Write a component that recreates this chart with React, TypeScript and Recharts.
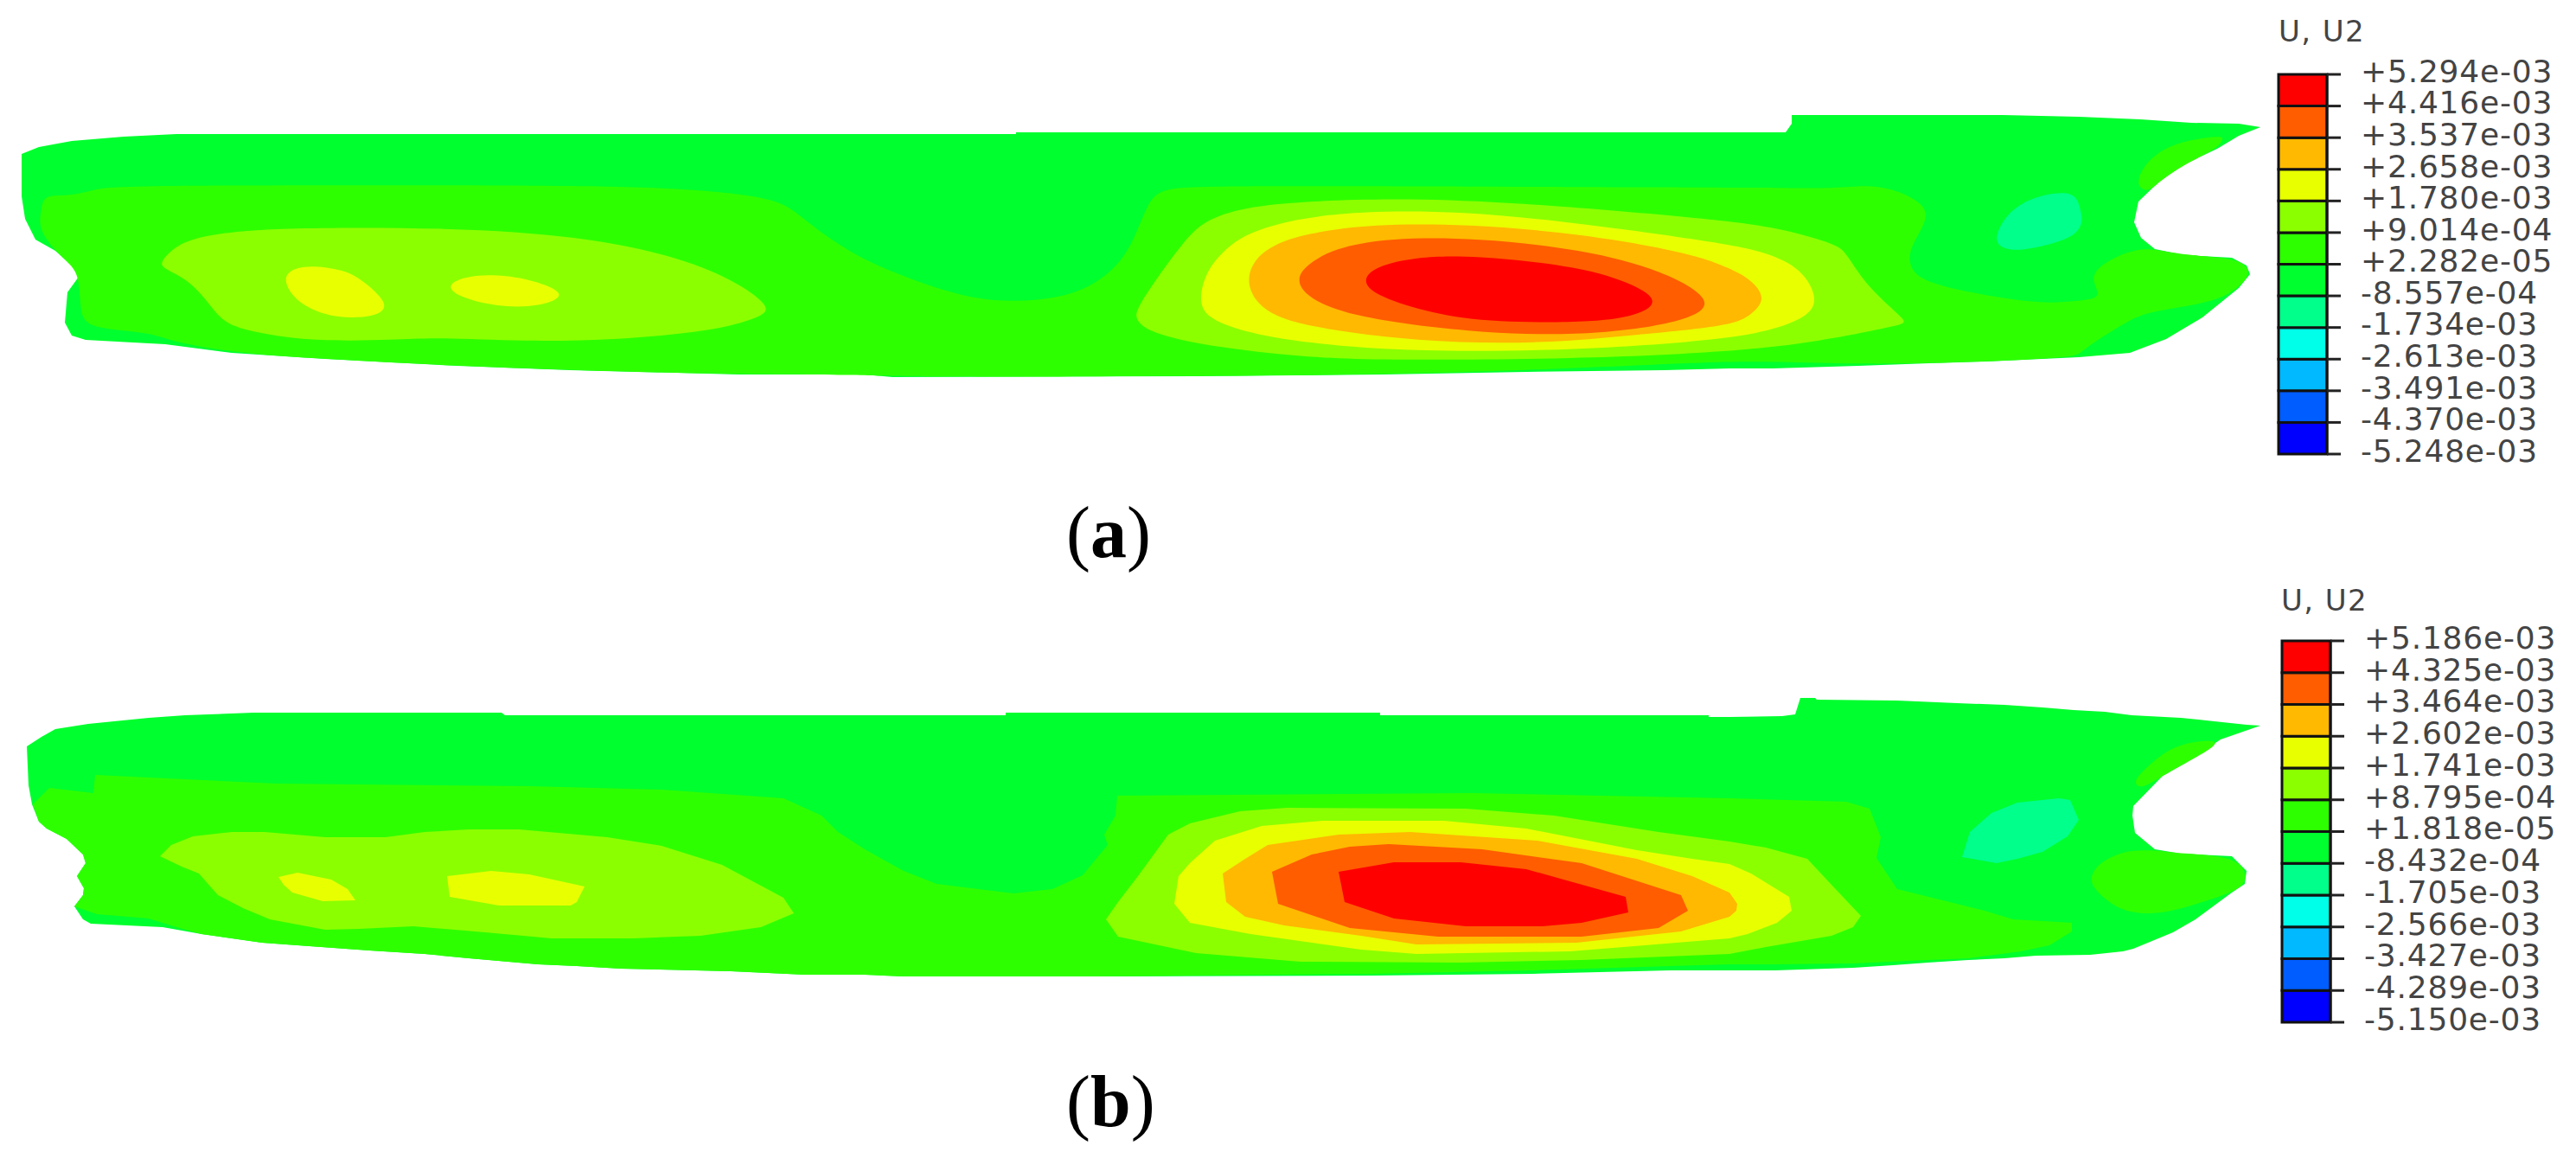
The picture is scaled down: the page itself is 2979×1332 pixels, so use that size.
import { BarChart, Bar, XAxis, YAxis, ScatterChart, Scatter } from "recharts";

type Pt = [number, number];

const C_RED = "#ff0000";
const C_ORED = "#ff5d00";
const C_ORANGE = "#ffb900";
const C_YELLOW = "#e8ff00";
const C_LIME = "#8bff00";
const C_GREEN1 = "#2eff00";
const C_GREEN2 = "#00ff2e";
const C_SPRING = "#00ff8b";

const bandColors = [C_RED, C_ORED, C_ORANGE, C_YELLOW, C_LIME, C_GREEN1, C_GREEN2, C_SPRING, "#00ffe8", "#00b9ff", "#005dff", "#0000ff"];

const levelsA = ["+5.294e-03", "+4.416e-03", "+3.537e-03", "+2.658e-03", "+1.780e-03", "+9.014e-04", "+2.282e-05", "-8.557e-04", "-1.734e-03", "-2.613e-03", "-3.491e-03", "-4.370e-03", "-5.248e-03"];
const levelsB = ["+5.186e-03", "+4.325e-03", "+3.464e-03", "+2.602e-03", "+1.741e-03", "+8.795e-04", "+1.818e-05", "-8.432e-04", "-1.705e-03", "-2.566e-03", "-3.427e-03", "-4.289e-03", "-5.150e-03"];

// contour outlines of panel (a), outermost first
const hullA: Pt[] = [[25,178],[45,170],[83,163],[143,158],[204,155],[1175,155],[1175,153],[2065,153],[2072,143],[2072,133],[2316,133],[2404,135],[2475,138],[2534,142],[2589,143],[2614,147],[2589,157],[2564,172],[2526,190],[2497,210],[2473,233],[2468,257],[2476,275],[2492,288],[2526,295],[2581,298],[2598,307],[2602,317],[2589,333],[2547,367],[2505,392],[2463,408],[2404,413],[2297,418],[2231,420],[2149,423],[2050,426],[2000,426],[1925,428],[1765,430],[1599,433],[1383,435],[1032,436],[1000,433],[855,433],[660,428],[529,423],[376,415],[268,408],[191,398],[99,393],[83,388],[75,373],[78,338],[91,320],[83,307],[64,290],[41,277],[29,253],[25,227]];
const greenA: Pt[] = [[44,265],[48,240],[51,225],[83,227],[108,219],[143,214],[638,214],[784,217],[893,228],[918,243],[950,270],[1000,302],[1064,327],[1128,347],[1185,349],[1236,342],[1268,327],[1293,307],[1312,277],[1328,232],[1344,218],[1395,214],[2000,217],[2046,217],[2126,218],[2156,214],[2189,218],[2219,232],[2231,248],[2219,270],[2208,290],[2208,307],[2219,322],[2252,333],[2316,345],[2366,351],[2404,348],[2425,345],[2427,338],[2419,323],[2425,310],[2446,297],[2471,288],[2492,288],[2526,295],[2581,298],[2598,307],[2602,317],[2589,333],[2560,350],[2484,360],[2459,372],[2404,407],[2404,413],[2297,418],[2231,420],[2149,421],[2050,418],[2000,418],[1925,421],[1765,428],[1599,433],[1383,435],[1032,436],[1000,433],[855,433],[660,428],[529,423],[376,415],[268,408],[191,393],[178,385],[108,380],[95,368],[93,353],[91,320],[83,307],[64,290]];
const bowLobeA: Pt[] = [[2471,210],[2480,190],[2501,172],[2530,162],[2568,157],[2572,160],[2564,172],[2526,190],[2497,210],[2486,221],[2476,219]];
const springA: Pt[] = [[2305,277],[2320,247],[2349,228],[2387,221],[2402,227],[2406,243],[2409,257],[2400,273],[2370,283],[2337,290],[2316,288]];
const limeLeftA: Pt[] = [[185,303],[204,283],[236,272],[312,263],[523,263],[670,273],[778,295],[848,323],[893,355],[880,367],[823,383],[714,393],[606,395],[504,390],[459,393],[357,395],[281,382],[255,370],[239,347],[217,323],[188,310]];
const yellow1A: Pt[] = [[327,322],[338,310],[364,307],[395,312],[415,320],[453,353],[434,367],[389,368],[357,357],[338,343]];
const yellow2A: Pt[] = [[516,330],[536,320],[568,317],[612,322],[660,340],[625,355],[574,355],[529,343]];
const limeA: Pt[] = [[1312,367],[1316,357],[1325,340],[1370,277],[1395,253],[1446,238],[1523,232],[1638,229],[1797,237],[2000,255],[2063,265],[2126,283],[2135,293],[2160,333],[2206,372],[2202,375],[2105,395],[2000,407],[1829,415],[1574,417],[1478,410],[1383,398],[1325,383]];
const yellowA: Pt[] = [[1386,347],[1395,313],[1415,290],[1440,270],[1497,253],[1574,244],[1689,244],[1829,258],[2000,282],[2042,292],[2084,310],[2104,348],[2088,367],[2055,380],[2000,392],[1829,405],[1638,407],[1510,397],[1434,383],[1395,367]];
const orangeA: Pt[] = [[1440,328],[1450,300],[1472,283],[1510,270],[1587,259],[1695,259],[1829,270],[1957,293],[2000,310],[2025,323],[2043,345],[2025,365],[2000,377],[1893,387],[1778,398],[1638,395],[1510,378],[1459,360]];
const redOrangeA: Pt[] = [[1499,323],[1510,307],[1542,287],[1606,275],[1708,275],[1829,288],[1925,313],[1984,348],[1957,370],[1855,387],[1721,387],[1561,367],[1510,343]];
const redA: Pt[] = [[1574,325],[1590,308],[1638,297],[1702,295],[1829,308],[1893,330],[1918,348],[1899,363],[1848,373],[1727,373],[1657,363],[1593,343]];

// contour outlines of panel (b)
const hullB: Pt[] = [[31,863],[48,852],[64,843],[102,837],[172,830],[214,827],[293,824],[580,824],[584,827],[1163,827],[1163,824],[1596,824],[1596,827],[1976,827],[1976,829],[2000,829],[2061,828],[2076,826],[2082,807],[2099,807],[2101,809],[2194,810],[2263,813],[2318,815],[2362,818],[2398,821],[2434,823],[2465,827],[2522,830],[2551,833],[2598,838],[2614,839],[2568,855],[2526,883],[2501,897],[2467,932],[2466,943],[2469,963],[2492,982],[2522,987],[2581,990],[2598,1007],[2596,1022],[2581,1032],[2539,1063],[2513,1078],[2467,1097],[2455,1100],[2417,1104],[2354,1105],[2318,1108],[2276,1110],[2229,1113],[2189,1116],[2143,1119],[2053,1122],[2000,1122],[1931,1122],[1772,1126],[1587,1128],[1268,1129],[1045,1129],[1000,1127],[931,1127],[845,1123],[718,1120],[667,1117],[622,1115],[542,1108],[491,1103],[427,1099],[344,1093],[303,1090],[233,1080],[188,1072],[105,1068],[96,1063],[86,1048],[96,1035],[97,1027],[89,1013],[99,998],[96,988],[77,970],[54,958],[45,950],[37,930],[33,908]];
const greenB: Pt[] = [[38,930],[57,911],[108,917],[110,896],[319,906],[612,909],[765,913],[906,923],[950,943],[969,962],[1000,982],[1045,1007],[1083,1022],[1172,1033],[1217,1028],[1252,1012],[1281,977],[1277,965],[1290,943],[1292,920],[1702,917],[2000,923],[2135,927],[2162,935],[2175,968],[2170,992],[2194,1028],[2295,1053],[2328,1063],[2396,1067],[2396,1077],[2370,1093],[2337,1100],[2276,1108],[2229,1110],[2143,1114],[2053,1115],[2000,1115],[1931,1117],[1772,1122],[1587,1126],[1268,1129],[1045,1129],[1000,1127],[931,1127],[845,1123],[718,1120],[667,1117],[622,1115],[542,1108],[491,1103],[427,1099],[344,1093],[303,1090],[233,1080],[204,1072],[172,1062],[112,1057],[86,1048],[96,1035],[97,1027],[89,1013],[99,998],[96,988],[77,970],[54,958],[45,950]];
const sternLobeB: Pt[] = [[2417,1015],[2425,1000],[2446,988],[2467,983],[2492,983],[2522,987],[2581,990],[2598,1007],[2596,1022],[2581,1032],[2547,1043],[2497,1058],[2459,1055],[2438,1043],[2421,1027]];
const bowLobeB: Pt[] = [[2467,905],[2476,893],[2505,867],[2535,857],[2577,855],[2526,883],[2501,897],[2476,913]];
const springB: Pt[] = [[2269,991],[2278,962],[2303,940],[2333,928],[2381,923],[2394,925],[2404,948],[2391,967],[2362,985],[2333,993],[2309,998]];
const limeLeftB: Pt[] = [[185,990],[198,977],[223,967],[268,962],[306,962],[376,968],[446,968],[491,962],[542,959],[600,959],[702,968],[765,978],[835,1000],[906,1038],[918,1056],[880,1072],[810,1082],[733,1085],[638,1085],[561,1078],[478,1071],[415,1074],[376,1075],[312,1063],[281,1050],[252,1035],[230,1010],[210,1002]];
const yellow1B: Pt[] = [[322,1014],[344,1009],[383,1017],[402,1028],[411,1041],[373,1042],[338,1032],[328,1023]];
const yellow2B: Pt[] = [[517,1013],[568,1007],[612,1011],[676,1025],[667,1043],[660,1047],[577,1047],[520,1037]];
const limeB: Pt[] = [[1279,1063],[1293,1043],[1316,1013],[1351,965],[1376,952],[1434,938],[1488,934],[1695,935],[1797,943],[1918,962],[2000,973],[2042,980],[2090,993],[2118,1023],[2152,1059],[2143,1072],[2118,1082],[2042,1095],[2000,1103],[1829,1110],[1689,1113],[1504,1112],[1383,1102],[1293,1083]];
const yellowB: Pt[] = [[1358,1045],[1363,1013],[1376,998],[1405,972],[1459,955],[1529,949],[1670,949],[1765,958],[1893,983],[1957,993],[2000,999],[2025,1010],[2069,1037],[2072,1053],[2055,1067],[2021,1080],[2000,1085],[1816,1100],[1638,1103],[1574,1098],[1446,1080],[1376,1067]];
const orangeB: Pt[] = [[1418,1043],[1414,1010],[1440,993],[1466,977],[1548,965],[1631,962],[1778,972],[1893,993],[1957,1013],[2000,1032],[2009,1045],[2008,1053],[2000,1060],[1944,1077],[1823,1090],[1638,1092],[1574,1082],[1485,1070],[1440,1060]];
const redOrangeB: Pt[] = [[1471,1008],[1517,988],[1561,979],[1606,976],[1714,982],[1829,998],[1944,1035],[1952,1053],[1918,1073],[1829,1083],[1663,1083],[1561,1073],[1478,1045]];
const redB: Pt[] = [[1548,1008],[1612,997],[1689,997],[1765,1005],[1880,1037],[1883,1055],[1829,1067],[1784,1071],[1695,1071],[1612,1062],[1555,1043]];

// panel (a) has smooth contours, panel (b) is faceted
const contours: [Pt[], string, "linearClosed" | "basisClosed"][] = [
  [hullA, C_GREEN2, "linearClosed"], [greenA, C_GREEN1, "basisClosed"], [bowLobeA, C_GREEN1, "basisClosed"], [springA, C_SPRING, "basisClosed"],
  [limeLeftA, C_LIME, "basisClosed"], [yellow1A, C_YELLOW, "basisClosed"], [yellow2A, C_YELLOW, "basisClosed"],
  [limeA, C_LIME, "basisClosed"], [yellowA, C_YELLOW, "basisClosed"], [orangeA, C_ORANGE, "basisClosed"], [redOrangeA, C_ORED, "basisClosed"], [redA, C_RED, "basisClosed"],
  [hullB, C_GREEN2, "linearClosed"], [greenB, C_GREEN1, "linearClosed"], [sternLobeB, C_GREEN1, "basisClosed"], [bowLobeB, C_GREEN1, "basisClosed"], [springB, C_SPRING, "linearClosed"],
  [limeLeftB, C_LIME, "linearClosed"], [yellow1B, C_YELLOW, "linearClosed"], [yellow2B, C_YELLOW, "linearClosed"],
  [limeB, C_LIME, "linearClosed"], [yellowB, C_YELLOW, "linearClosed"], [orangeB, C_ORANGE, "linearClosed"], [redOrangeB, C_ORED, "linearClosed"], [redB, C_RED, "linearClosed"],
];

const legendRow = [Object.fromEntries(bandColors.map((_, i) => [`b${i}`, 1]))];

function ColorLegend({ left, top, plotHeight, levels }: { left: number; top: number; plotHeight: number; levels: string[] }) {
  return (
    <div style={{ position: "absolute", left, top }}>
      <BarChart width={344} height={plotHeight + 60} data={legendRow} barCategoryGap={0} margin={{ top: 30, bottom: 30, left: 2, right: 0 }}>
        <XAxis hide type="category" />
        <YAxis
          orientation="right"
          type="number"
          width={286}
          domain={[0, 12]}
          ticks={levels.map((_, i) => i)}
          interval={0}
          tickFormatter={(v: number) => levels[12 - v]}
          tickSize={16}
          tickMargin={23}
          axisLine={{ stroke: "#111", strokeWidth: 3 }}
          tickLine={{ stroke: "#222", strokeWidth: 3 }}
          tick={{ fill: "#444", fontSize: 36, fontFamily: "DejaVu Sans", letterSpacing: 0.8, dy: -4 }}
        />
        {[...bandColors].reverse().map((c, i) => (
          <Bar key={i} dataKey={`b${i}`} stackId="u2" fill={c} stroke="#111" strokeWidth={3} isAnimationActive={false} />
        ))}
      </BarChart>
    </div>
  );
}

const titleStyle = { position: "absolute", fontFamily: "DejaVu Sans", fontSize: 34, letterSpacing: 1.4, color: "#444", lineHeight: "36px" } as const;
const captionStyle = { position: "absolute", fontFamily: "Liberation Serif", fontSize: 84, color: "#000", lineHeight: "96px" } as const;

export default function App() {
  return (
    <div style={{ position: "absolute", left: 0, top: 0, width: 2979, height: 1332, background: "#fff", overflow: "hidden" }}>
      <div style={{ position: "absolute", left: 0, top: 0 }}>
        <ScatterChart width={2620} height={1332} margin={{ top: 0, right: 0, bottom: 0, left: 0 }}>
          <XAxis hide type="number" dataKey="x" domain={[0, 2620]} />
          <YAxis hide type="number" dataKey="y" domain={[0, 1332]} reversed />
          {contours.map(([pts, color, joint], i) => (
            <Scatter
              key={i}
              data={pts.map(([x, y]) => ({ x, y }))}
              fill={color}
              line={{ fill: color, stroke: "none" }}
              lineType="joint"
              lineJointType={joint}
              shape={() => null}
              isAnimationActive={false}
            />
          ))}
        </ScatterChart>
      </div>

      <div style={{ ...titleStyle, left: 2635, top: 18 }}>U, U2</div>
      <ColorLegend left={2633} top={56} plotHeight={439} levels={levelsA} />
      <div style={{ ...captionStyle, left: 1233, top: 568 }}>(<b>a</b>)</div>

      <div style={{ ...titleStyle, left: 2638, top: 676 }}>U, U2</div>
      <ColorLegend left={2637} top={711} plotHeight={441} levels={levelsB} />
      <div style={{ ...captionStyle, left: 1233, top: 1226 }}>(<b>b</b>)</div>
    </div>
  );
}
